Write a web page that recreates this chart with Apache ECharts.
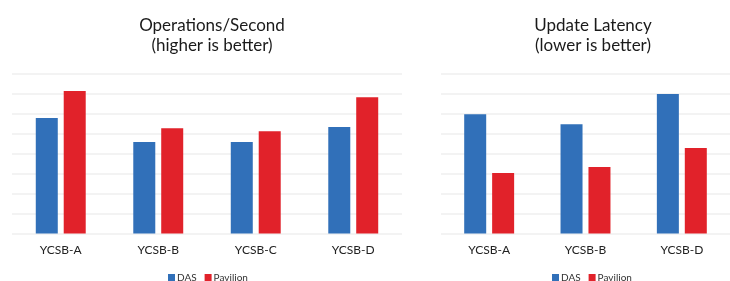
<!DOCTYPE html>
<html>
<head>
<meta charset="utf-8">
<script src="https://cdn.jsdelivr.net/npm/echarts@6/dist/echarts.min.js"></script>
<style>
  html, body { margin: 0; padding: 0; background: #fff; }
  #chart { width: 730px; height: 281px; }
</style>
</head>
<body>
<div id="chart"></div>
<script>
  // values, in gridline units (8 gridlines up to the top)
  var seriesNames = ['DAS', 'Pavilion'];
  var opsCategories = ['YCSB-A', 'YCSB-B', 'YCSB-C', 'YCSB-D'];
  var opsDas = [5.77, 4.57, 4.57, 5.32];
  var opsPavilion = [7.12, 5.26, 5.11, 6.81];
  var latCategories = ['YCSB-A', 'YCSB-B', 'YCSB-D'];
  var latDas = [5.96, 5.46, 6.98];
  var latPavilion = [3.02, 3.32, 4.27];

  var blue = '#3170b9';
  var red = '#e1222a';
  var font = 'Lato, "Open Sans", sans-serif';

  var myChart = echarts.init(document.getElementById('chart'));

  function xAxis(idx, cats) {
    return {
      type: 'category', gridIndex: idx, data: cats,
      axisLine: { show: false }, axisTick: { show: false },
      axisLabel: { color: '#222', fontSize: 12, fontFamily: font, margin: 11 }
    };
  }
  function yAxis(idx) {
    return {
      type: 'value', gridIndex: idx, min: 0, max: 8, interval: 1,
      axisLine: { show: false }, axisTick: { show: false }, axisLabel: { show: false },
      splitLine: { lineStyle: { color: '#efefef', width: 1.5 } }
    };
  }
  function bar(name, idx, data, color) {
    return {
      name: name, type: 'bar', xAxisIndex: idx, yAxisIndex: idx,
      data: data, barWidth: 22, barGap: '27%',
      itemStyle: { color: color }, silent: true
    };
  }
  function legend(left) {
    return {
      data: seriesNames, left: left, top: 272.5, padding: 0, orient: 'horizontal',
      itemWidth: 7, itemHeight: 7, itemGap: 8, icon: 'rect',
      textStyle: { fontSize: 10, color: '#333', fontFamily: font, padding: [0, 0, 0, -3] }
    };
  }

  var option = {
    animation: false,
    title: [
      { text: 'Operations/Second\n(higher is better)', left: 207, top: 11, textAlign: 'center',
        textStyle: { fontSize: 17, fontWeight: 'normal', color: '#1a1a1a', fontFamily: font, lineHeight: 20 } },
      { text: 'Update Latency\n(lower is better)', left: 588, top: 11, textAlign: 'center',
        textStyle: { fontSize: 17, fontWeight: 'normal', color: '#1a1a1a', fontFamily: font, lineHeight: 20 } }
    ],
    legend: [legend(168), legend(552)],
    grid: [
      { left: 12, right: 328, top: 73.5, bottom: 47.5 },
      { left: 441, right: 0, top: 73.5, bottom: 47.5 }
    ],
    xAxis: [xAxis(0, opsCategories), xAxis(1, latCategories)],
    yAxis: [yAxis(0), yAxis(1)],
    series: [
      bar('DAS', 0, opsDas, blue),
      bar('Pavilion', 0, opsPavilion, red),
      bar('DAS', 1, latDas, blue),
      bar('Pavilion', 1, latPavilion, red)
    ]
  };
  myChart.setOption(option);
</script>
</body>
</html>
